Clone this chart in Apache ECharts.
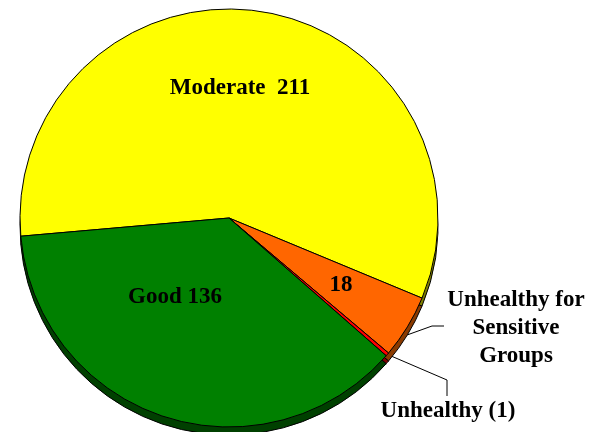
<!DOCTYPE html>
<html>
<head>
<meta charset="utf-8">
<script src="https://cdn.jsdelivr.net/npm/echarts@6/dist/echarts.min.js"></script>
<style>
  html, body { margin: 0; padding: 0; background: #fff; }
  #chart { width: 599px; height: 432px; }
</style>
</head>
<body>
<div id="chart"></div>
<script>
var names = ['Moderate', 'Unhealthy for Sensitive Groups', 'Unhealthy', 'Good'];
var counts = [211, 18, 1, 136];
var topColors = ['#ffff00', '#ff6600', '#ff0000', '#008000'];
var sideColors = ['#808000', '#8a3a00', '#800000', '#004000'];
var labelTexts = ['Moderate  211', '18', 'Unhealthy (1)', 'Good 136'];

var chart = echarts.init(document.getElementById('chart'));

var fontFam = '"Liberation Serif", "Times New Roman", serif';

// where Excel put the inside labels
var insideSpots = {0: [240, 88], 1: [341, 285], 3: [175, 297]};

var topData = names.map(function (n, i) {
  var outside = (i === 2);
  return {
    name: n,
    value: counts[i],
    itemStyle: { color: topColors[i] },
    label: {
      show: true,
      position: outside ? 'outside' : 'inside',
      formatter: labelTexts[i]
    },
    labelLine: { show: outside }
  };
});

var sideData = names.map(function (n, i) {
  var lab = (i === 1);
  return {
    name: n,
    value: counts[i],
    itemStyle: { color: sideColors[i] },
    label: {
      show: lab,
      position: 'outside',
      formatter: 'Unhealthy for\nSensitive\nGroups'
    },
    labelLine: { show: lab }
  };
});

var labelStyle = {
  color: '#000',
  fontFamily: fontFam,
  fontWeight: 'bold',
  fontSize: 23,
  lineHeight: 28,
  overflow: 'none',
  width: null
};

var option = {
  animation: false,
  series: [
    {
      // side / depth of the 3-D pie
      type: 'pie',
      silent: true,
      center: [229, 226],
      radius: 209,
      startAngle: 185,
      clockwise: true,
      data: sideData,
      itemStyle: { borderColor: '#000', borderWidth: 1 },
      label: labelStyle,
      labelLine: { lineStyle: { color: '#000', width: 1 } },
      labelLayout: function (p) {
        if (p.dataIndex !== 1) return {};
        var start = p.labelLinePoints ? p.labelLinePoints[0] : [412, 332];
        return {
          x: 516, y: 328, align: 'center', verticalAlign: 'middle',
          width: 200,
          labelLinePoints: [start, [432, 326], [444, 326]]
        };
      }
    },
    {
      type: 'pie',
      silent: true,
      center: [229, 218],
      radius: 209,
      startAngle: 185,
      clockwise: true,
      data: topData,
      itemStyle: { borderColor: '#000', borderWidth: 1 },
      label: labelStyle,
      labelLine: { lineStyle: { color: '#000', width: 1 } },
      labelLayout: function (p) {
        var spot = insideSpots[p.dataIndex];
        if (spot) {
          return { x: spot[0], y: spot[1], align: 'center', verticalAlign: 'middle' };
        }
        var start = p.labelLinePoints ? p.labelLinePoints[0] : [393, 359];
        return {
          x: 448, y: 411, align: 'center', verticalAlign: 'middle',
          labelLinePoints: [start, [447, 380], [447, 396]]
        };
      }
    }
  ]
};

chart.setOption(option);
</script>
</body>
</html>
